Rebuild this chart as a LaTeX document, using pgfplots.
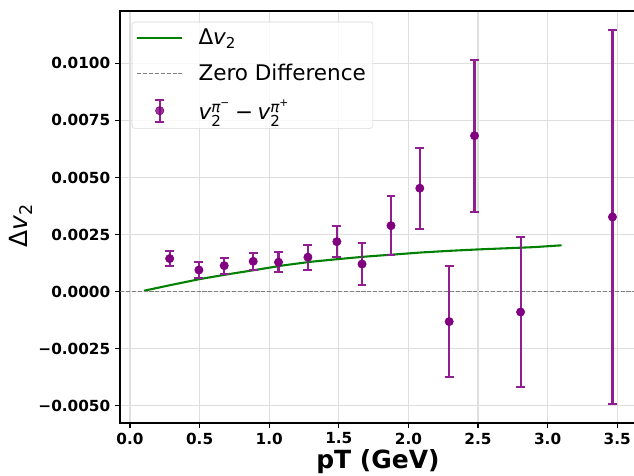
\documentclass[border=0pt]{standalone}
\usepackage{fontspec}
\usepackage{amsmath}
\setmainfont{DejaVu Sans}
\usepackage{pgfplots}
\pgfplotsset{compat=1.18}
\definecolor{mgreen}{RGB}{0,128,0}
\definecolor{mpurple}{RGB}{128,0,128}
\definecolor{ebar}{RGB}{145,30,145}
\definecolor{mgray}{RGB}{128,128,128}
\definecolor{gridc}{RGB}{222,222,222}
\definecolor{legedge}{RGB}{215,215,215}
\newcommand{\vv}{\text{\itshape v}}
\begin{document}
\begin{tikzpicture}
\useasboundingbox (-86.4pt,-37.44pt) rectangle (370.08pt,304.56pt);
\begin{axis}[
  at={(0,0)}, anchor=south west,
  scale only axis, width=371.52pt, height=296.64pt,
  xmin=-0.0718, xmax=3.635,
  ymin=-0.00575, ymax=0.01229,
  axis line style={black, line width=0.8pt},
  xtick={0,0.5,1,1.5,2,2.5,3,3.5},
  xticklabels={0.0,0.5,1.0,1.5,2.0,2.5,3.0,3.5},
  ytick={-0.005,-0.0025,0,0.0025,0.005,0.0075,0.01},
  yticklabels={−0.0050,−0.0025,0.0000,0.0025,0.0050,0.0075,0.0100},
  scaled y ticks=false, scaled x ticks=false,
  xtick pos=lower, ytick pos=left,
  tick align=outside, major tick length=3.5pt,
  tick style={black, line width=0.8pt},
  tick label style={font=\fontsize{11}{13}\selectfont\bfseries},
  grid=major, major grid style={gridc, line width=0.8pt},
  xlabel={pT (GeV)},
  ylabel={$\text{Δ}\vv_{\text{2}}$},
  xlabel style={font=\fontsize{18}{21}\selectfont\bfseries, at={(axis description cs:0.5,0)}, anchor=base, yshift=-32.4pt},
  ylabel style={font=\fontsize{18}{21}\selectfont, at={(axis description cs:0,0.5)}, anchor=center, yshift=71.3pt, xshift=-6pt},
  legend cell align=left,
  legend style={at={(rel axis cs:0.0227,0.974)}, anchor=north west,
    draw=legedge, rounded corners=2pt, fill=white, fill opacity=0.8, text opacity=1, draw opacity=1,
    font=\fontsize{15.5}{18}\selectfont, inner xsep=3pt, inner ysep=3pt, row sep=8.5pt,
    /tikz/every odd column/.append style={column sep=9pt}},
]
\addplot[mgreen, line width=1.5pt, no marks,
  legend image code/.code={\draw[mgreen, line width=1.5pt] (0pt,0pt) -- (32.4pt,0pt);}]
  coordinates {
  (0.1,0.00004) (0.3,0.00030) (0.5,0.00055) (0.7,0.00076) (0.9,0.00095)
  (1.1,0.00115) (1.3,0.00131) (1.5,0.00143) (1.7,0.00154) (1.9,0.00163)
  (2.1,0.00172) (2.3,0.00179) (2.5,0.00185) (2.7,0.00190) (2.9,0.00195)
  (3.1,0.00203)};
\addlegendentry{$\text{Δ}\vv_{\text{2}}$}
\addplot[mgray, line width=0.8pt, dash pattern=on 2.96pt off 1.28pt, no marks,
  legend image code/.code={\draw[mgray, line width=0.8pt, dash pattern=on 2.96pt off 1.28pt] (0pt,0pt) -- (32.4pt,0pt);}]
  coordinates {(-0.0718,0) (3.635,0)};
\addlegendentry{Zero Difference}
\addplot[only marks, mark=*, mark size=3pt, mpurple, mark options={fill=mpurple, draw=mpurple},
  legend image code/.code={
  \draw[ebar, line width=1.5pt] (16.2pt,-8pt) -- (16.2pt,8pt);
  \draw[ebar, line width=1.5pt] (13pt,-8pt) -- (19.4pt,-8pt);
  \draw[ebar, line width=1.5pt] (13pt,8pt) -- (19.4pt,8pt);
  \fill[mpurple] (16.2pt,0pt) circle (3pt);},
  error bars/.cd, y dir=both, y explicit,
  error bar style={ebar, line width=1.5pt},
  error mark options={rotate=90, ebar, mark size=3.2pt, line width=1.5pt},
  ]
  coordinates {
  (0.285,0.00145) +- (0,0.00033)
  (0.495,0.00095) +- (0,0.00034)
  (0.677,0.00114) +- (0,0.00035)
  (0.885,0.00133) +- (0,0.00037)
  (1.067,0.00129) +- (0,0.00044)
  (1.278,0.00151) +- (0,0.00055)
  (1.486,0.00219) +- (0,0.00069)
  (1.667,0.00121) +- (0,0.00093)
  (1.875,0.00289) +- (0,0.00130)
  (2.082,0.00453) +- (0,0.00178)
  (2.293,-0.00131) +- (0,0.00243)
  (2.475,0.00683) +- (0,0.00333)
  (2.806,-0.00089) +- (0,0.00328)
  (3.466,0.00327) +- (0,0.00820)};
\addlegendentry{$\vv_{\text{2}}^{\text{\itshape π}^{\text{−}}}\mathbin{\text{−}}\vv_{\text{2}}^{\text{\itshape π}^{\text{+}}}$}
\end{axis}
\end{tikzpicture}
\end{document}
